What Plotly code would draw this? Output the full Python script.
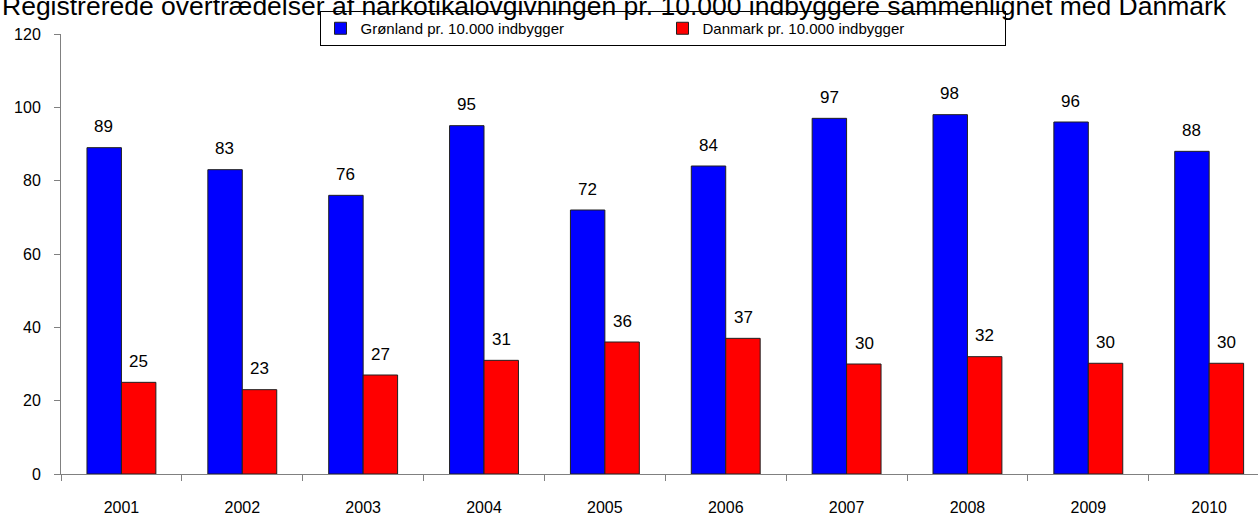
import plotly.graph_objects as go

# Data
years = ["2001", "2002", "2003", "2004", "2005", "2006", "2007", "2008", "2009", "2010"]
groenland = [89, 83, 76, 95, 72, 84, 97, 98, 96, 88]
danmark = [25, 23, 27, 31, 36, 37, 30, 32, 30.2, 30.2]
y_ticks = [0, 20, 40, 60, 80, 100, 120]

title_text = ("Registrerede overtrædelser af narkotikalovgivningen pr. 10.000 "
              "indbyggere sammenlignet med Danmark")

FONT = "Arial, Liberation Sans, sans-serif"

fig = go.Figure()
fig.add_trace(go.Bar(
    x=years, y=groenland, name="Grønland pr. 10.000 indbygger",
    marker=dict(color="#0000FF", line=dict(color="#202020", width=1)),
))
fig.add_trace(go.Bar(
    x=years, y=danmark, name="Danmark pr. 10.000 indbygger",
    marker=dict(color="#FF0000", line=dict(color="#202020", width=1)),
))

# value labels sitting above each bar (Excel style offset);
# x is the category index so the string years are not read as numbers
for i, (g, d) in enumerate(zip(groenland, danmark)):
    fig.add_annotation(x=i, y=g, text=f"{g:.0f}", xref="x", yref="y",
                       showarrow=False, xshift=-17.5, yshift=21,
                       font=dict(size=17, color="black", family=FONT))
    fig.add_annotation(x=i, y=d, text=f"{d:.0f}", xref="x", yref="y",
                       showarrow=False, xshift=17.5, yshift=21,
                       font=dict(size=17, color="black", family=FONT))

# title, partly cut off at the top like the original
fig.add_annotation(text=title_text, xref="paper", yref="paper",
                   x=0.462, y=1 + 19 / 440, xanchor="center", yanchor="bottom",
                   yshift=-8, showarrow=False,
                   font=dict(size=26.5, color="black", family=FONT))

fig.update_layout(
    width=1258, height=516,
    margin=dict(l=61, r=0, t=34, b=42, autoexpand=False),
    plot_bgcolor="white", paper_bgcolor="white",
    font=dict(family=FONT, size=16, color="black"),
    barmode="group", bargap=0.43, bargroupgap=0,
    showlegend=True,
    legend=dict(
        orientation="h", xref="container", yref="container",
        x=662.5 / 1258, xanchor="center", y=1 - 11 / 516, yanchor="top",
        bordercolor="black", borderwidth=1, bgcolor="white",
        font=dict(size=15, family=FONT), entrywidth=297, entrywidthmode="pixels",
        itemclick=False,
    ),
    xaxis=dict(
        type="category", range=[-0.5, 9.404], showline=True, linecolor="#808080",
        linewidth=1, ticks="outside", tickson="boundaries", ticklen=6,
        tickcolor="#808080", showgrid=False, zeroline=False,
        tickfont=dict(size=16), ticklabelstandoff=19,
    ),
    yaxis=dict(
        range=[0, 120], tickvals=y_ticks, showline=True, linecolor="#808080",
        linewidth=1, ticks="outside", ticklen=6, tickcolor="#808080",
        showgrid=False, zeroline=False, tickfont=dict(size=16),
        ticklabelstandoff=10,
    ),
)

# drop the browser's default 8px body margin so the figure fills the window
fig.write_html("out.html", config={"displayModeBar": False},
               post_script="document.body.style.margin='0';")
